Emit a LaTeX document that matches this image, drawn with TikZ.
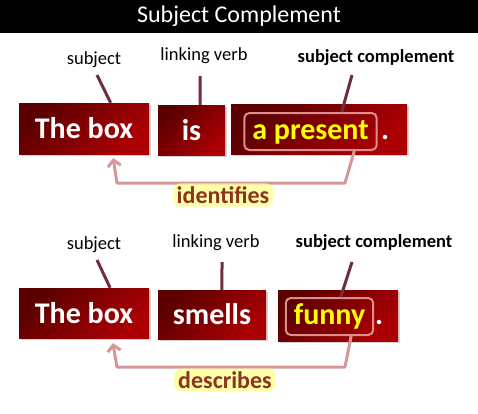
\documentclass[tikz,border=0pt]{standalone}
\usepackage{fontspec}
\setmainfont{Carlito}
\usetikzlibrary{arrows.meta,shadows}
\definecolor{boxdark}{RGB}{90,0,0}
\definecolor{boxlight}{RGB}{172,0,4}
\definecolor{pointercol}{RGB}{112,46,60}
\definecolor{framepink}{RGB}{222,142,142}
\definecolor{arrowpink}{RGB}{214,150,150}
\definecolor{wordyellow}{RGB}{255,255,0}
\definecolor{verbbrown}{RGB}{140,52,32}
\definecolor{glowyellow}{RGB}{255,255,140}
\tikzset{
  titlebar/.style={fill=black, text=white, minimum width=478pt, minimum height=33pt, inner sep=0pt, font=\fontsize{24}{26}\selectfont},
  roletxt/.style={inner sep=0pt, font=\fontsize{18.5}{20}\selectfont},
  wordbox/.style={shading=axis, top color=boxdark, bottom color=boxlight, shading angle=45, drop shadow={opacity=0.35, shadow xshift=2pt, shadow yshift=-2pt}, text=white, inner sep=0pt, text height=22pt, text depth=2pt, font=\fontsize{30}{32}\selectfont\bfseries},
  framed/.style={draw=framepink, line width=2pt, rounded corners=5pt, text=wordyellow, inner xsep=8pt, inner ysep=6pt, text height=20pt, text depth=5pt, font=\fontsize{30}{32}\selectfont\bfseries},
  dottxt/.style={text=white, inner sep=0pt, font=\fontsize{30}{32}\selectfont\bfseries},
  pointer/.style={draw=pointercol, line width=3pt},
  backarrow/.style={draw=arrowpink, line width=3pt, line join=round, -{Straight Barb[length=6pt, width=13pt]}},
  verbtxt/.style={fill=glowyellow, fill opacity=0.75, text opacity=1, text=verbbrown, rounded corners=7pt, inner xsep=4pt, inner ysep=3pt, font=\fontsize{24}{26}\selectfont\bfseries}
}
\begin{document}
\begin{tikzpicture}[x=1pt, y=-1pt]
\useasboundingbox (0,0) rectangle (478,413);
\node[titlebar] (T) at (239,16.5) {Subject Complement};

\node[roletxt] (S1) at (94,60) {subject};
\node[roletxt] (V1) at (204,56) {linking verb};
\node[roletxt, font=\fontsize{18.5}{20}\selectfont\bfseries] (C1) at (376,58) {subject complement};
\node[wordbox, minimum width=130pt, minimum height=51pt] (A1) at (84,128.5) {The box};
\node[wordbox, minimum width=67pt, minimum height=50pt] (B1) at (191.5,130) {is};
\node[wordbox, minimum width=176pt, minimum height=50pt] (D1) at (319,129) {};
\node[framed] (E1) at (310.5,131.5) {a present};
\node[dottxt, anchor=base west] (F1) at (381,139) {.};

\coordinate (s1) at (97,75);
\coordinate (v1) at (200,76);
\coordinate (c1) at (352,75);
\draw[pointer] (s1) -- (A1.44);
\draw[pointer] (v1) -- (B1.71);
\draw[pointer] (c1) -- (E1.32);

\coordinate (g1) at (345,183);
\coordinate (h1) at (117,183);
\draw[backarrow, shorten >=4pt] (E1.-24) -- (g1) -- (h1) -- (A1.-42);
\node[verbtxt] (L1) at (223,195) {identifies};

\node[roletxt] (S2) at (94,245) {subject};
\node[roletxt] (V2) at (216,243) {linking verb};
\node[roletxt, font=\fontsize{18.5}{20}\selectfont\bfseries] (C2) at (374,243) {subject complement};
\node[wordbox, minimum width=130pt, minimum height=50pt] (A2) at (84,313) {The box};
\node[wordbox, minimum width=108pt, minimum height=49pt] (B2) at (212,314.5) {smells};
\node[wordbox, minimum width=120pt, minimum height=51pt] (D2) at (338,315.5) {};
\node[framed] (E2) at (329.5,316.5) {funny};
\node[dottxt, anchor=base west] (F2) at (375,324) {.};

\coordinate (s2) at (97,260);
\coordinate (v2) at (222,262);
\coordinate (c2) at (352,262);
\draw[pointer] (s2) -- (A2.44);
\draw[pointer] (v2) -- (B2.68);
\draw[pointer] (c2) -- (E2.60);

\coordinate (g2) at (345,367);
\coordinate (h2) at (117,367);
\draw[backarrow, shorten >=5pt] (E2.-42) -- (g2) -- (h2) -- (A2.-42);
\node[verbtxt] (L2) at (225,380) {describes};
\end{tikzpicture}
\end{document}
